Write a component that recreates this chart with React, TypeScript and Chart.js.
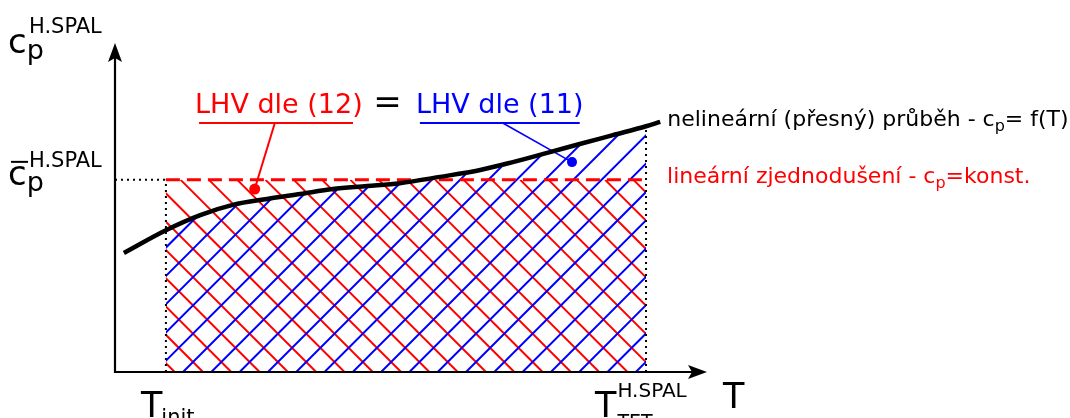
import React, { useEffect, useRef } from "react";
import { Chart, registerables } from "chart.js";

Chart.register(...registerables);

// Schematic curve: c_p of combustion products vs temperature (data units 0..100)
const curveT = [1.5, 8.6, 14.4, 19.9, 25.7, 31.3, 36.8, 42.6, 48.1, 54.9, 61.7, 67.2, 73.0, 78.5, 84.1, 89.7, 92.1];
const curveCp = [36.2, 43.1, 47.7, 50.8, 52.6, 54.1, 55.6, 56.5, 57.4, 59.3, 61.4, 63.8, 66.6, 69.3, 72.0, 74.7, 76.0];

const tInit = 8.6;
const tTet = 89.7;
const cpBar = 58.4;

// annotation anchors (data units)
const redDot = { x: 23.6, y: 55.6 };
const blueDot = { x: 77.2, y: 63.8 };
const redUnderline = [14.2, 40.2];
const blueUnderline = [51.5, 78.5];
const underlineY = 75.7;
const redLeaderTop = { x: 27.0, y: 75.7 };
const blueLeaderTop = { x: 65.5, y: 75.7 };

const redLabel = "LHV dle (12)";
const blueLabel = "LHV dle (11)";
const curveLabel = ["nelineární (přesný) průběh - c", "p", "= f(T)"];
const constLabel = ["lineární zjednodušení - c", "p", "=konst."];

const FONT = '"DejaVu Sans", "Noto Sans", sans-serif';
const RED = "#ff0000";
const BLUE = "#0000ff";

type Part = { t: string; size: number; dy?: number; color?: string; dx?: number };

function rich(ctx: CanvasRenderingContext2D, x: number, y: number, parts: Part[], color: string) {
  let cx = x;
  ctx.textBaseline = "alphabetic";
  ctx.textAlign = "left";
  for (const p of parts) {
    ctx.font = `${p.size}px ${FONT}`;
    ctx.fillStyle = p.color || color;
    cx += p.dx || 0;
    ctx.fillText(p.t, cx, y + (p.dy || 0));
    cx += ctx.measureText(p.t).width;
  }
  return cx;
}

function hatch(
  ctx: CanvasRenderingContext2D,
  x1: number, y1: number, x2: number, y2: number,
  dir: number, phase: number, step: number, color: string
) {
  ctx.strokeStyle = color;
  ctx.lineWidth = 2;
  ctx.beginPath();
  if (dir > 0) {
    const cMin = x1 - y2, cMax = x2 - y1;
    for (let c = phase + Math.ceil((cMin - phase) / step) * step; c <= cMax; c += step) {
      ctx.moveTo(c + y1, y1);
      ctx.lineTo(c + y2, y2);
    }
  } else {
    const cMin = x1 + y1, cMax = x2 + y2;
    for (let c = phase + Math.ceil((cMin - phase) / step) * step; c <= cMax; c += step) {
      ctx.moveTo(c - y1, y1);
      ctx.lineTo(c - y2, y2);
    }
  }
  ctx.stroke();
}

const CURVE_INDEX = 2;

const diagramPlugin = {
  id: "diagram",
  beforeDatasetsDraw(chart: any) {
    const ctx: CanvasRenderingContext2D = chart.ctx;
    const xs = chart.scales.x, ys = chart.scales.y;
    const xa = xs.getPixelForValue(tInit);
    const xb = xs.getPixelForValue(tTet);
    const yBar = ys.getPixelForValue(cpBar);
    const y0 = ys.getPixelForValue(0);
    const top = chart.chartArea.top;

    // red hatch: rectangle under the constant c_p
    ctx.save();
    ctx.beginPath();
    ctx.rect(xa, yBar, xb - xa, y0 - yBar);
    ctx.clip();
    hatch(ctx, xa, yBar, xb, y0, 1, -169, 28.3, RED);
    ctx.restore();

    // blue hatch: area under nonlinear curve
    const line = chart.getDatasetMeta(CURVE_INDEX).dataset;
    ctx.save();
    ctx.beginPath();
    ctx.rect(xa, top, xb - xa, y0 - top);
    ctx.clip();
    ctx.beginPath();
    if (line && typeof line.path === "function") {
      if (typeof line.updateControlPoints === "function") line.updateControlPoints(chart.chartArea, "x");
      line.path(ctx);
    } else {
      curveT.forEach((t, i) => {
        const px = xs.getPixelForValue(t), py = ys.getPixelForValue(curveCp[i]);
        if (i === 0) ctx.moveTo(px, py); else ctx.lineTo(px, py);
      });
    }
    ctx.lineTo(xs.getPixelForValue(curveT[curveT.length - 1]), y0);
    ctx.lineTo(xs.getPixelForValue(curveT[0]), y0);
    ctx.closePath();
    ctx.clip();
    hatch(ctx, xa, top, xb, y0, -1, 555, 28.3, BLUE);
    ctx.restore();
  },
  afterDraw(chart: any) {
    const ctx: CanvasRenderingContext2D = chart.ctx;
    const xs = chart.scales.x, ys = chart.scales.y;
    const area = chart.chartArea;
    const x0 = xs.getPixelForValue(0);
    const y0 = ys.getPixelForValue(0);
    const xa = xs.getPixelForValue(tInit);
    const xb = xs.getPixelForValue(tTet);
    const yBar = ys.getPixelForValue(cpBar);

    ctx.save();
    // axes
    ctx.strokeStyle = "#000";
    ctx.fillStyle = "#000";
    ctx.lineWidth = 2.2;
    ctx.beginPath();
    ctx.moveTo(x0, area.top + 14);
    ctx.lineTo(x0, y0);
    ctx.lineTo(area.right - 14, y0);
    ctx.stroke();
    // arrow heads
    ctx.beginPath();
    ctx.moveTo(x0, area.top);
    ctx.lineTo(x0 - 7, area.top + 19);
    ctx.lineTo(x0, area.top + 15);
    ctx.lineTo(x0 + 7, area.top + 19);
    ctx.closePath();
    ctx.fill();
    ctx.beginPath();
    ctx.moveTo(area.right, y0);
    ctx.lineTo(area.right - 19, y0 - 7);
    ctx.lineTo(area.right - 15, y0);
    ctx.lineTo(area.right - 19, y0 + 7);
    ctx.closePath();
    ctx.fill();

    // y-axis labels
    rich(ctx, 8, 53, [
      { t: "c", size: 34 },
      { t: "p", size: 27, dy: 6 },
    ], "#000");
    rich(ctx, 29, 33, [{ t: "H.SPAL", size: 21 }], "#000");

    const cb = yBar + 5;
    rich(ctx, 8, cb, [
      { t: "c", size: 34 },
      { t: "p", size: 27, dy: 6 },
    ], "#000");
    rich(ctx, 29, cb - 18, [{ t: "H.SPAL", size: 21 }], "#000");
    ctx.lineWidth = 2;
    ctx.beginPath();
    ctx.moveTo(11, cb - 23);
    ctx.lineTo(28, cb - 23);
    ctx.stroke();

    // x-axis labels
    rich(ctx, xa - 25, 417, [
      { t: "T", size: 35 },
      { t: "init", size: 21, dy: 7, dx: -1 },
    ], "#000");
    const tEnd = rich(ctx, xb - 51, 417, [{ t: "T", size: 35 }], "#000");
    rich(ctx, tEnd + 1, 397, [{ t: "H.SPAL", size: 20 }], "#000");
    rich(ctx, tEnd + 1, 428, [{ t: "TET", size: 19 }], "#000");
    rich(ctx, area.right + 16, 408, [{ t: "T", size: 35 }], "#000");

    // top labels
    const uy = ys.getPixelForValue(underlineY);
    rich(ctx, xs.getPixelForValue(redUnderline[0]) - 4, uy - 10, [{ t: redLabel, size: 27 }], RED);
    rich(ctx, xs.getPixelForValue(blueUnderline[0]) - 4, uy - 10, [{ t: blueLabel, size: 27 }], BLUE);
    const eqX = (xs.getPixelForValue(redUnderline[1]) + xs.getPixelForValue(blueUnderline[0])) / 2;
    ctx.font = `34px ${FONT}`;
    ctx.fillStyle = "#000";
    ctx.textAlign = "center";
    ctx.fillText("=", eqX + 1, uy - 10);

    // right labels
    const lastX = xs.getPixelForValue(curveT[curveT.length - 1]);
    const lastY = ys.getPixelForValue(curveCp[curveCp.length - 1]);
    rich(ctx, lastX + 7, lastY + 4, [
      { t: curveLabel[0], size: 22 },
      { t: curveLabel[1], size: 16, dy: 5 },
      { t: curveLabel[2], size: 22 },
    ], "#000");
    rich(ctx, xb + 21, yBar + 3, [
      { t: constLabel[0], size: 22 },
      { t: constLabel[1], size: 16, dy: 5 },
      { t: constLabel[2], size: 22 },
    ], RED);
    ctx.restore();
  },
};

function seg(a: { x: number; y: number }, b: { x: number; y: number }) {
  return [a, b];
}

export default function App() {
  const ref = useRef<HTMLCanvasElement>(null);
  useEffect(() => {
    document.body.style.margin = "0";
    const curveIdx = curveT.indexOf(tTet);
    const dotted = { borderColor: "#000", borderWidth: 2, borderDash: [2, 4], pointRadius: 0, showLine: true };
    const chart = new Chart(ref.current as HTMLCanvasElement, {
      type: "scatter",
      data: {
        datasets: [
          { data: [redDot], pointRadius: 5.5, pointBackgroundColor: RED, pointBorderWidth: 0, showLine: false } as any,
          { data: [blueDot], pointRadius: 5, pointBackgroundColor: BLUE, pointBorderWidth: 0, showLine: false } as any,
          {
            data: curveT.map((x, i) => ({ x, y: curveCp[i] })),
            borderColor: "#000",
            borderWidth: 4.5,
            pointRadius: 0,
            showLine: true,
            cubicInterpolationMode: "monotone",
            fill: false,
          } as any,
          {
            data: seg({ x: tInit, y: cpBar }, { x: tTet, y: cpBar }),
            borderColor: RED,
            borderWidth: 3,
            borderDash: [14, 7],
            pointRadius: 0,
            showLine: true,
          } as any,
          { data: seg({ x: 0, y: cpBar }, { x: tInit, y: cpBar }), ...dotted } as any,
          { data: seg({ x: tInit, y: 0 }, { x: tInit, y: cpBar }), ...dotted } as any,
          { data: seg({ x: tTet, y: 0 }, { x: tTet, y: curveCp[curveIdx] }), ...dotted } as any,
          {
            data: seg({ x: redUnderline[0], y: underlineY }, { x: redUnderline[1], y: underlineY }),
            borderColor: RED, borderWidth: 2, pointRadius: 0, showLine: true,
          } as any,
          { data: seg(redLeaderTop, redDot), borderColor: RED, borderWidth: 2, pointRadius: 0, showLine: true } as any,
          {
            data: seg({ x: blueUnderline[0], y: underlineY }, { x: blueUnderline[1], y: underlineY }),
            borderColor: BLUE, borderWidth: 2, pointRadius: 0, showLine: true,
          } as any,
          { data: seg(blueLeaderTop, blueDot), borderColor: BLUE, borderWidth: 1.6, pointRadius: 0, showLine: true } as any,
        ],
      },
      options: {
        animation: false,
        responsive: false,
        events: [],
        layout: { padding: { left: 115, right: 363, top: 43, bottom: 46 } },
        scales: {
          x: { type: "linear", min: 0, max: 100, display: false },
          y: { type: "linear", min: 0, max: 100, display: false },
        },
        plugins: { legend: { display: false }, tooltip: { enabled: false } },
      },
      plugins: [diagramPlugin],
    });
    return () => chart.destroy();
  }, []);
  return (
    <div style={{ width: 1070, height: 418, position: "relative", background: "#fff" }}>
      <canvas ref={ref} width={1070} height={418} style={{ display: "block" }} />
    </div>
  );
}
